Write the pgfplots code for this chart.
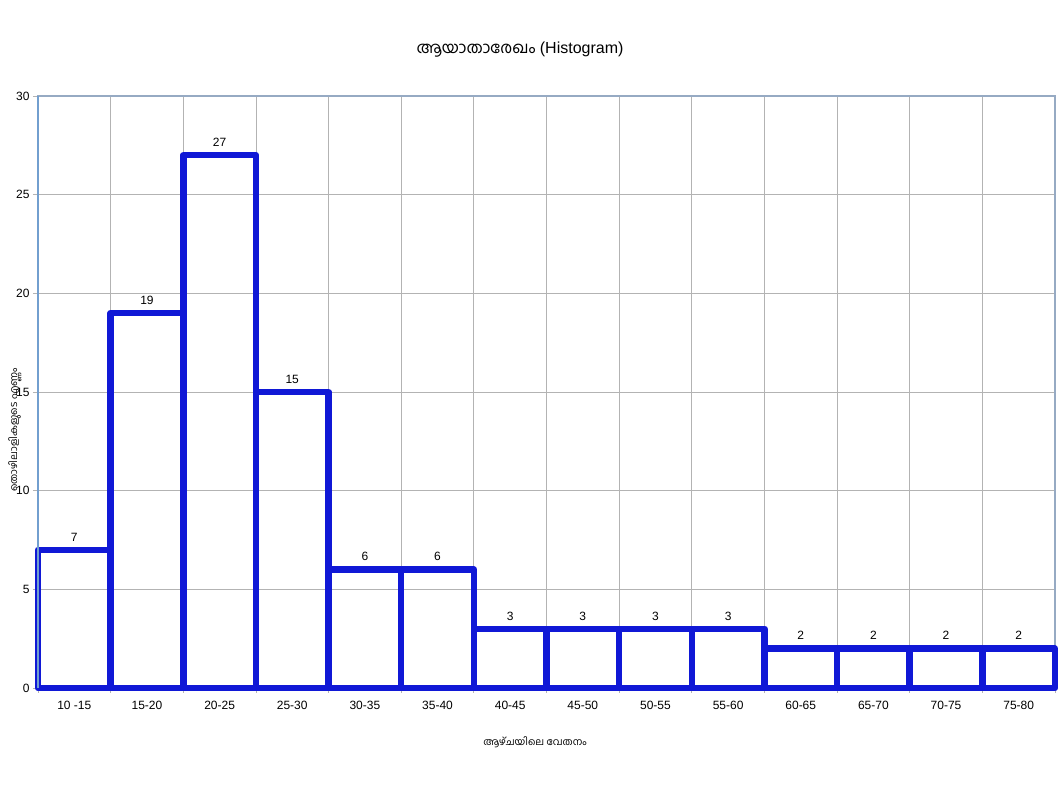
\documentclass[border=0pt]{standalone}
\usepackage{pgfplots}
\pgfplotsset{compat=1.18}
\usepackage{fontspec}
\setmainfont{Liberation Sans}
\newfontfamily\mlfont[Script=Malayalam]{Hind Kochi}
\definecolor{barblue}{RGB}{16,24,214}
\definecolor{gridgray}{RGB}{179,179,179}
\definecolor{axisblue}{RGB}{114,159,207}
\definecolor{framecol}{RGB}{150,170,195}
\begin{document}
\begin{tikzpicture}
\useasboundingbox (-38pt,-106pt) rectangle (1020pt,688pt);
\begin{axis}[
  at={(0,0)}, anchor=south west,
  scale only axis, width=1017pt, height=592pt,
  xmin=-0.5, xmax=13.5, ymin=0, ymax=30,
  xtick={0,...,13},
  xticklabels={10 -15,15-20,20-25,25-30,30-35,35-40,40-45,45-50,50-55,55-60,60-65,65-70,70-75,75-80},
  minor xtick={-0.5,0.5,...,13.5},
  ytick={0,5,...,30},
  xtick pos=bottom, ytick pos=left,
  xmajorgrids=false, xminorgrids=true, ymajorgrids=true,
  grid style={draw=gridgray, line width=0.8pt},
  minor grid style={draw=gridgray, line width=0.8pt},
  major x tick style={draw=none},
  tick style={draw=gridgray, line width=0.8pt},
  major tick length=5pt, minor tick length=5pt,
  tick align=outside,
  axis line style={draw=framecol, line width=2pt},
  ticklabel style={font=\fontsize{12}{14}\selectfont, text=black},
  xticklabel style={yshift=-5pt},
  /pgf/number format/assume math mode=true,
  clip=false,
]
\addplot[ybar, bar width=1, fill=none, draw=barblue, line width=6.5pt, line join=round,
  nodes near coords,
  nodes near coords style={font=\fontsize{12}{14}\selectfont, text=black, yshift=2pt}]
  coordinates {(0,7)(1,19)(2,27)(3,15)(4,6)(5,6)(6,3)(7,3)(8,3)(9,3)(10,2)(11,2)(12,2)(13,2)};
\draw[axisblue, line width=2pt] (rel axis cs:0,0) -- (rel axis cs:0,1);
\end{axis}
\node[font=\fontsize{16}{19}\selectfont] at (482pt,638pt) {{\mlfont ആയാതാരേഖം} (Histogram)};
\node[font=\fontsize{10}{12}\selectfont\mlfont] at (497pt,-54pt) {ആഴ്ചയിലെ വേതനം};
\node[rotate=90, font=\fontsize{10}{12}\selectfont\mlfont] at (-23pt,258pt) {തൊഴിലാളികളുടെ എണ്ണം};
\end{tikzpicture}
\end{document}
